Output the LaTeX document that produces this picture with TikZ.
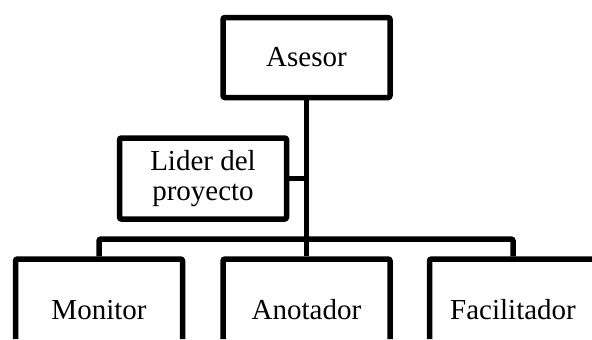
\documentclass[tikz,border=0pt]{standalone}
\usepackage{fontspec}
\setmainfont{Liberation Serif}
\begin{document}
\begin{tikzpicture}[x=0.5pt, y=-0.5pt, line width=2.75pt, rounded corners=1pt]
\tikzset{box/.style={draw, rectangle, minimum width=83.5pt, minimum height=40pt, inner sep=0pt, align=center, font=\fontsize{14.5}{15}\selectfont}}
\tikzset{low/.style={box, minimum height=51pt}}
\useasboundingbox (0,0) rectangle (592,339);
\clip (0,0) rectangle (592,339);
\node[box] (asesor) at (306.5,57.5) {Asesor};
\node[box, minimum height=40.5pt] (lider) at (203,178.5) {Lider del\\proyecto};
\node[low] (monitor) at (99,310) {Monitor};
\node[low] (anotador) at (306.5,310) {Anotador};
\node[low] (facil) at (513,310) {Facilitador};
\coordinate (bus) at (306.5,239);
\path (asesor.south) edge (anotador.north);
\path (lider.east) edge (lider.east -| asesor.south);
\draw (monitor.north) |- (bus) -| (facil.north);
\end{tikzpicture}
\end{document}
